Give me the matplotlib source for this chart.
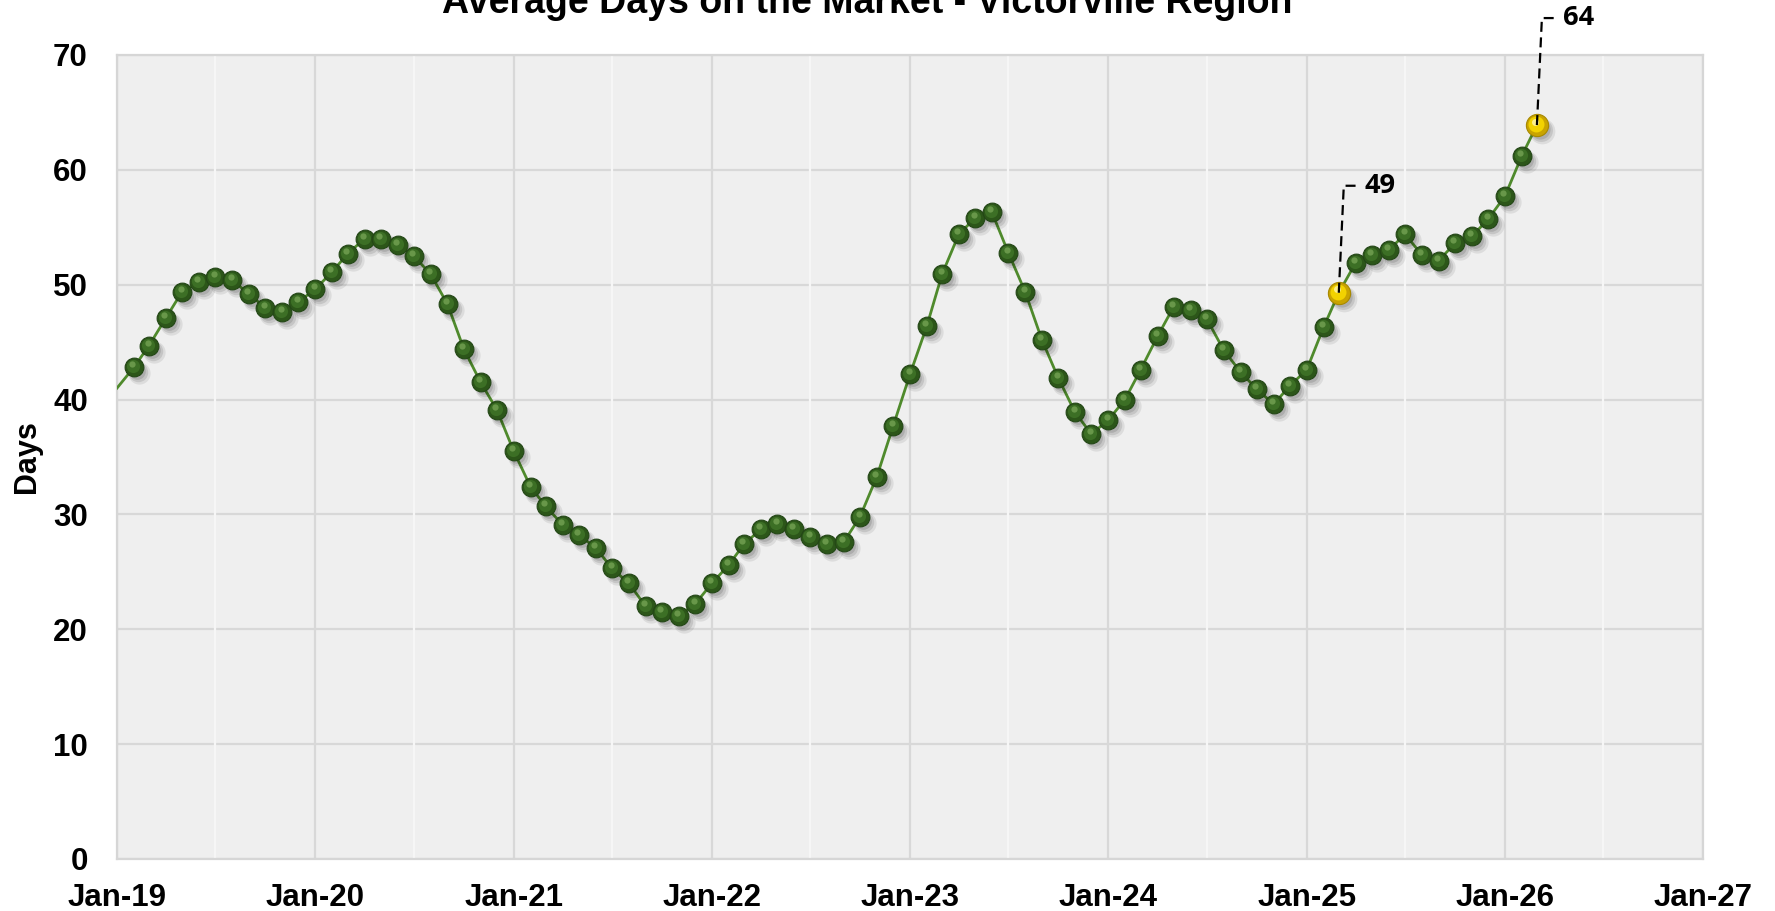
import matplotlib
matplotlib.use("Agg")
import matplotlib.pyplot as plt
import matplotlib.dates as mdates
from matplotlib.transforms import offset_copy
import numpy as np
import pandas as pd

# ---------------- data ----------------
title = "Average Days on the Market - Victorville Region"
y_label = "Days"
start_month = "2019-01-01"
values_2019 = [41.0, 42.8, 44.7, 47.1, 49.4, 50.2, 50.7, 50.4, 49.2, 48.0, 47.6, 48.5]
values_2020 = [49.6, 51.1, 52.7, 54.0, 54.0, 53.5, 52.5, 50.9, 48.3, 44.4, 41.5, 39.1]
values_2021 = [35.5, 32.4, 30.7, 29.1, 28.2, 27.1, 25.3, 24.0, 22.0, 21.5, 21.2, 22.2]
values_2022 = [24.0, 25.6, 27.4, 28.7, 29.2, 28.7, 28.0, 27.4, 27.6, 29.8, 33.3, 37.7]
values_2023 = [42.2, 46.4, 50.9, 54.4, 55.8, 56.3, 52.8, 49.4, 45.2, 41.9, 38.9, 37.0]
values_2024 = [38.2, 40.0, 42.6, 45.5, 48.1, 47.8, 47.0, 44.3, 42.4, 40.9, 39.6, 41.2]
values_2025 = [42.6, 46.3, 49.3, 51.9, 52.6, 53.0, 54.4, 52.6, 52.1, 53.6, 54.2, 55.7]
values_2026 = [57.7, 61.2, 63.9]
values = (values_2019 + values_2020 + values_2021 + values_2022 + values_2023
          + values_2024 + values_2025 + values_2026)
months = pd.date_range(start_month, periods=len(values), freq="MS")

highlight_months = ["2025-03-01", "2026-03-01"]
highlight_labels = ["49", "64"]

x_min, x_max = "2019-01-01", "2027-01-01"
y_ticks = list(range(0, 80, 10))

# ---------------- figure ----------------
W, H = 1775, 911
fig = plt.figure(figsize=(W / 100, H / 100), dpi=100)
fig.patch.set_facecolor("white")
ax = fig.add_axes([117 / W, 1 - 859 / H, (1703 - 117) / W, (859 - 55) / H])
ax.set_facecolor("#efefef")

FONT = "Liberation Sans"

ax.set_xlim(pd.Timestamp(x_min), pd.Timestamp(x_max))
ax.set_ylim(0, 70)
ax.set_yticks(y_ticks)
ax.xaxis.set_major_locator(mdates.YearLocator())
ax.xaxis.set_major_formatter(mdates.DateFormatter("%b-%y"))
ax.xaxis.set_minor_locator(mdates.MonthLocator(bymonth=7))

ax.set_axisbelow(True)
ax.grid(which="major", axis="both", color="#d8d8d8", lw=1.6)
for d in ax.xaxis.get_minorticklocs():
    ax.axvline(d, color="#f6f6f6", lw=1.6, zorder=0.8)

for s in ax.spines.values():
    s.set_color("#d6d6d6")
    s.set_linewidth(1.6)

ax.tick_params(axis="both", which="both", length=0)
ax.tick_params(axis="x", pad=17)
ax.tick_params(axis="y", pad=21)
for lab in ax.get_xticklabels() + ax.get_yticklabels():
    lab.set_fontfamily(FONT)
    lab.set_fontweight("bold")
    lab.set_fontsize(22.5)

ax.set_ylabel(y_label, fontfamily=FONT, fontweight="bold", fontsize=22)
ax.yaxis.label.set_va("center")
ax.yaxis.set_label_coords(-0.057, 0.5)

fig.text(867.5 / W, 1 - 13 / H, title, ha="center", va="baseline",
         fontfamily=FONT, fontweight="bold", fontsize=27)

# ---------------- series ----------------
x = np.array(months)
y = np.array(values)
ax.plot(x, y, color="#4f8a2c", lw=2.0, zorder=3)

def off(dx, dy):
    return offset_copy(ax.transData, fig=fig, x=dx, y=dy, units="dots")

mx, my = x[1:], y[1:]
hl_mask = np.isin(pd.DatetimeIndex(months), pd.DatetimeIndex(highlight_months))[1:]
gx, gy = mx[~hl_mask], my[~hl_mask]
yx, yy = mx[hl_mask], my[hl_mask]

# shadows
for dx, dy, ms, a in [(5, -6, 16, 0.08), (4, -5, 14, 0.10), (3, -4, 12, 0.12)]:
    ax.plot(gx, gy, "o", ms=ms, color="black", alpha=a, mew=0,
            transform=off(dx, dy), zorder=3.5)
    ax.plot(yx, yy, "o", ms=ms + 2.5, color="black", alpha=a, mew=0,
            transform=off(dx, dy), zorder=3.5)

# green spheres
ax.plot(gx, gy, "o", ms=13.5, color="#2c5619", mec="#234616", mew=0.8, zorder=4)
ax.plot(gx, gy, "o", ms=9.5, color="#3c6f25", mew=0, transform=off(-1, 1), zorder=4.1)
ax.plot(gx, gy, "o", ms=4.5, color="#6d9c4e", mew=0, alpha=0.9,
        transform=off(-1.5, 3), zorder=4.2)

# yellow spheres
ax.plot(yx, yy, "o", ms=16, color="#c9a400", mec="#a88900", mew=0.8, zorder=4)
ax.plot(yx, yy, "o", ms=11.5, color="#f2d200", mew=0, transform=off(-1, 1), zorder=4.1)
ax.plot(yx, yy, "o", ms=5, color="#fff39a", mew=0, alpha=0.9,
        transform=off(-2, 3.5), zorder=4.2)

# ---------------- data labels with leader lines ----------------
fig.canvas.draw()
inv = ax.transData.inverted()
for d, lab in zip(highlight_months, highlight_labels):
    dn = mdates.date2num(pd.Timestamp(d))
    v = float(y[np.where(pd.DatetimeIndex(months) == pd.Timestamp(d))[0][0]])
    px, py = ax.transData.transform((dn, v))
    pts = np.array([[px, py], [px + 5, py + 107], [px + 17, py + 107]])
    dpts = inv.transform(pts)
    ax.plot(dpts[:, 0], dpts[:, 1], color="black", lw=1.6,
            linestyle=(0, (4.5, 2.5)), clip_on=False, zorder=6)
    tpos = inv.transform((px + 26, py + 107))
    ax.text(tpos[0], tpos[1], lab, ha="left", va="center",
            fontfamily=["Open Sans", "DejaVu Sans"],
            fontweight="bold", fontsize=19.5, clip_on=False, zorder=6)

fig.savefig("out.png", dpi=100)
